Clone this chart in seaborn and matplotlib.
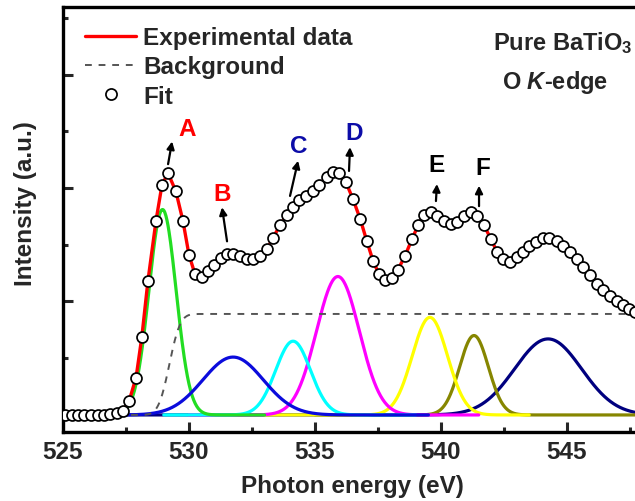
import math
import numpy as np
import pandas as pd
import matplotlib
matplotlib.use("Agg")
import matplotlib.pyplot as plt
from matplotlib.lines import Line2D
from matplotlib.ticker import MultipleLocator
import seaborn as sns

# ---------------- data ----------------
energy = [525.08, 525.34, 525.60, 525.85, 526.11, 526.37, 526.63, 526.88, 527.14, 527.38,
          527.62, 527.90, 528.13, 528.37, 528.69, 528.93, 529.17, 529.48, 529.76, 530.00,
          530.24, 530.52, 530.75, 530.99, 531.27, 531.51, 531.75, 532.02, 532.30, 532.54,
          532.82, 533.10, 533.33, 533.61, 533.89, 534.13, 534.37, 534.64, 534.92, 535.16,
          535.48, 535.71, 535.95, 536.23, 536.51, 536.79, 537.06, 537.30, 537.54, 537.78,
          538.06, 538.29, 538.57, 538.85, 539.09, 539.33, 539.60, 539.84, 540.12, 540.40,
          540.63, 540.91, 541.19, 541.43, 541.71, 541.98, 542.22, 542.46, 542.74, 543.02,
          543.25, 543.49, 543.77, 544.05, 544.29, 544.60, 544.84, 545.12, 545.40, 545.63,
          545.91, 546.19, 546.43, 546.71, 546.98, 547.22, 547.46, 547.70]
intensity = [0.00, 0.00, 0.00, 0.00, 0.00, 0.00, 0.00, 0.005, 0.015, 0.035,
             0.12, 0.33, 0.69, 1.18, 1.71, 2.03, 2.13, 1.97, 1.71, 1.41,
             1.24, 1.22, 1.27, 1.32, 1.38, 1.42, 1.42, 1.40, 1.37, 1.37,
             1.40, 1.46, 1.56, 1.67, 1.76, 1.83, 1.89, 1.93, 1.97, 2.03,
             2.10, 2.14, 2.13, 2.05, 1.90, 1.73, 1.53, 1.36, 1.24, 1.19,
             1.21, 1.28, 1.40, 1.55, 1.67, 1.76, 1.79, 1.75, 1.71, 1.68,
             1.70, 1.75, 1.79, 1.75, 1.67, 1.55, 1.44, 1.37, 1.35, 1.39,
             1.44, 1.49, 1.52, 1.56, 1.56, 1.53, 1.49, 1.44, 1.37, 1.30,
             1.23, 1.15, 1.10, 1.05, 1.00, 0.97, 0.93, 0.91]
fit = intensity

# fitted Gaussian components (centre, height, sigma)
comp_centers = [528.95, 531.75, 534.13, 535.91, 539.56, 541.31, 544.25]
comp_heights = [1.81, 0.51, 0.65, 1.22, 0.86, 0.70, 0.67]
comp_sigmas = [0.54, 1.20, 0.69, 0.85, 0.70, 0.57, 1.33]

# step background (centre, height, width)
bg_center, bg_height, bg_width = 529.22, 0.89, 0.48

peak_labels = ["A", "B", "C", "D", "E", "F"]
label_x = [529.92, 531.31, 534.37, 536.55, 539.84, 541.67]
label_y = [2.52, 1.95, 2.37, 2.49, 2.21, 2.18]
arrow_tail_x = [529.17, 531.51, 534.01, 536.35, 539.80, 541.51]
arrow_tail_y = [2.21, 1.53, 1.93, 2.15, 1.885, 1.84]
arrow_head_x = [529.33, 531.31, 534.33, 536.39, 539.84, 541.51]
arrow_head_y = [2.41, 1.83, 2.24, 2.36, 2.035, 2.02]

xticks = [525, 530, 535, 540, 545]

# ---------------- style ----------------
sns.set_style("ticks")
plt.rcParams["font.family"] = ["Liberation Sans", "DejaVu Sans"]
plt.rcParams["font.weight"] = "bold"
plt.rcParams["mathtext.fontset"] = "custom"
plt.rcParams["mathtext.rm"] = "Liberation Sans:bold"
plt.rcParams["mathtext.bf"] = "Liberation Sans:bold"
plt.rcParams["mathtext.it"] = "Liberation Sans:bold:italic"

comp_colors = ["#22dd22", "#0b0bdc", "#00ffff", "#ff00ff", "#ffff00", "#868600", "#00007f"]
comp_windows = [(525, 533), (525, 539.5), (529, 539), (530, 541.5), (533, 543.5), (535, 550), (525, 550)]
comp_z = [2.0, 2.1, 1.9, 1.8, 1.7, 1.6, 1.5]
label_colors = ["#ff0000", "#ff0000", "#0c0ca8", "#0c0ca8", "black", "black"]

fig = plt.figure(figsize=(6.35, 5.02), dpi=100)
ax = fig.add_axes([0.0992, 0.1375, 0.9921, 0.8466])

grid = np.linspace(525, 550, 1201)

# background
erf = np.vectorize(math.erf)
bg = bg_height * 0.5 * (1 + erf((grid - bg_center) / bg_width))
sns.lineplot(x=grid, y=bg, ax=ax, color="#555555", lw=1.4, ls=(0, (3.5, 3.5)),
             sort=False, estimator=None, zorder=3)

# components
for c, h, s, col, (lo, hi), z in zip(comp_centers, comp_heights, comp_sigmas,
                                     comp_colors, comp_windows, comp_z):
    xs = grid[(grid >= lo) & (grid <= hi)]
    ys = h * np.exp(-0.5 * ((xs - c) / s) ** 2)
    sns.lineplot(x=xs, y=ys, ax=ax, color=col, lw=2.3, sort=False,
                 estimator=None, zorder=z)

# experimental data + fit circles
df = pd.DataFrame({"energy": energy, "intensity": intensity, "fit": fit})
sns.lineplot(data=df, x="energy", y="intensity", ax=ax, color="#ff0000", lw=2.4,
             sort=False, estimator=None, zorder=5)
sns.scatterplot(data=df, x="energy", y="fit", ax=ax, marker="o", s=62,
                facecolor="white", edgecolor="black", linewidth=1.25, zorder=6)

# arrows and labels
for lab, lx, ly, tx, ty, hx, hy, col in zip(peak_labels, label_x, label_y,
                                            arrow_tail_x, arrow_tail_y,
                                            arrow_head_x, arrow_head_y, label_colors):
    ax.annotate("", xy=(hx, hy), xytext=(tx, ty),
                arrowprops=dict(arrowstyle="-|>", color="black", lw=1.6,
                                mutation_scale=11, shrinkA=0, shrinkB=0), zorder=7)
    ax.text(lx, ly, lab, color=col, fontsize=17.5, fontweight="bold",
            ha="center", va="center", zorder=7)

ax.text(542.06, 3.29, r"Pure BaTiO$_3$", fontsize=17, fontweight="bold",
        ha="left", va="center")
ax.text(542.42, 2.94, r"O $K$-edge", fontsize=17, fontweight="bold",
        ha="left", va="center")

# axes
ax.set_xlim(525, 550)
ax.set_ylim(-0.15, 3.595)
ax.set_xticks(xticks)
ax.set_xticklabels([str(t) for t in xticks])
ax.xaxis.set_minor_locator(MultipleLocator(2.5))
ax.yaxis.set_major_locator(MultipleLocator(1))
ax.yaxis.set_minor_locator(MultipleLocator(0.5))
ax.set_yticklabels([])
ax.tick_params(axis="both", which="major", direction="in", length=7, width=2.2,
               labelsize=17.5, pad=6)
ax.tick_params(axis="both", which="minor", direction="in", length=3.5, width=2.2)
ax.tick_params(axis="y", which="both", left=True)
for sp in ax.spines.values():
    sp.set_linewidth(2.4)
    sp.set_color("black")
for lab in ax.get_xticklabels():
    lab.set_fontweight("bold")

ax.set_xlabel("Photon energy (eV)", fontsize=17.5, fontweight="bold")
ax.set_ylabel("Intensity (a.u.)", fontsize=17.5, fontweight="bold")
ax.xaxis.set_label_coords((352 - 63) / 630, -0.098)
ax.yaxis.set_label_coords(-0.041, 0.539)

handles = [Line2D([], [], color="#ff0000", lw=2.4),
           Line2D([], [], color="#555555", lw=1.4, ls=(0, (3.5, 3.5))),
           Line2D([], [], color="black", marker="o", ls="none", markersize=8,
                  markerfacecolor="white", markeredgewidth=1.25)]
ax.legend(handles, ["Experimental data", "Background", "Fit"], loc="upper left",
          bbox_to_anchor=(0.035, 0.955), frameon=False,
          handlelength=2.1, handletextpad=0.3, labelspacing=0.26,
          borderaxespad=0, borderpad=0, prop={"weight": "bold", "size": 17.5})

fig.savefig("out.png", dpi=100)
